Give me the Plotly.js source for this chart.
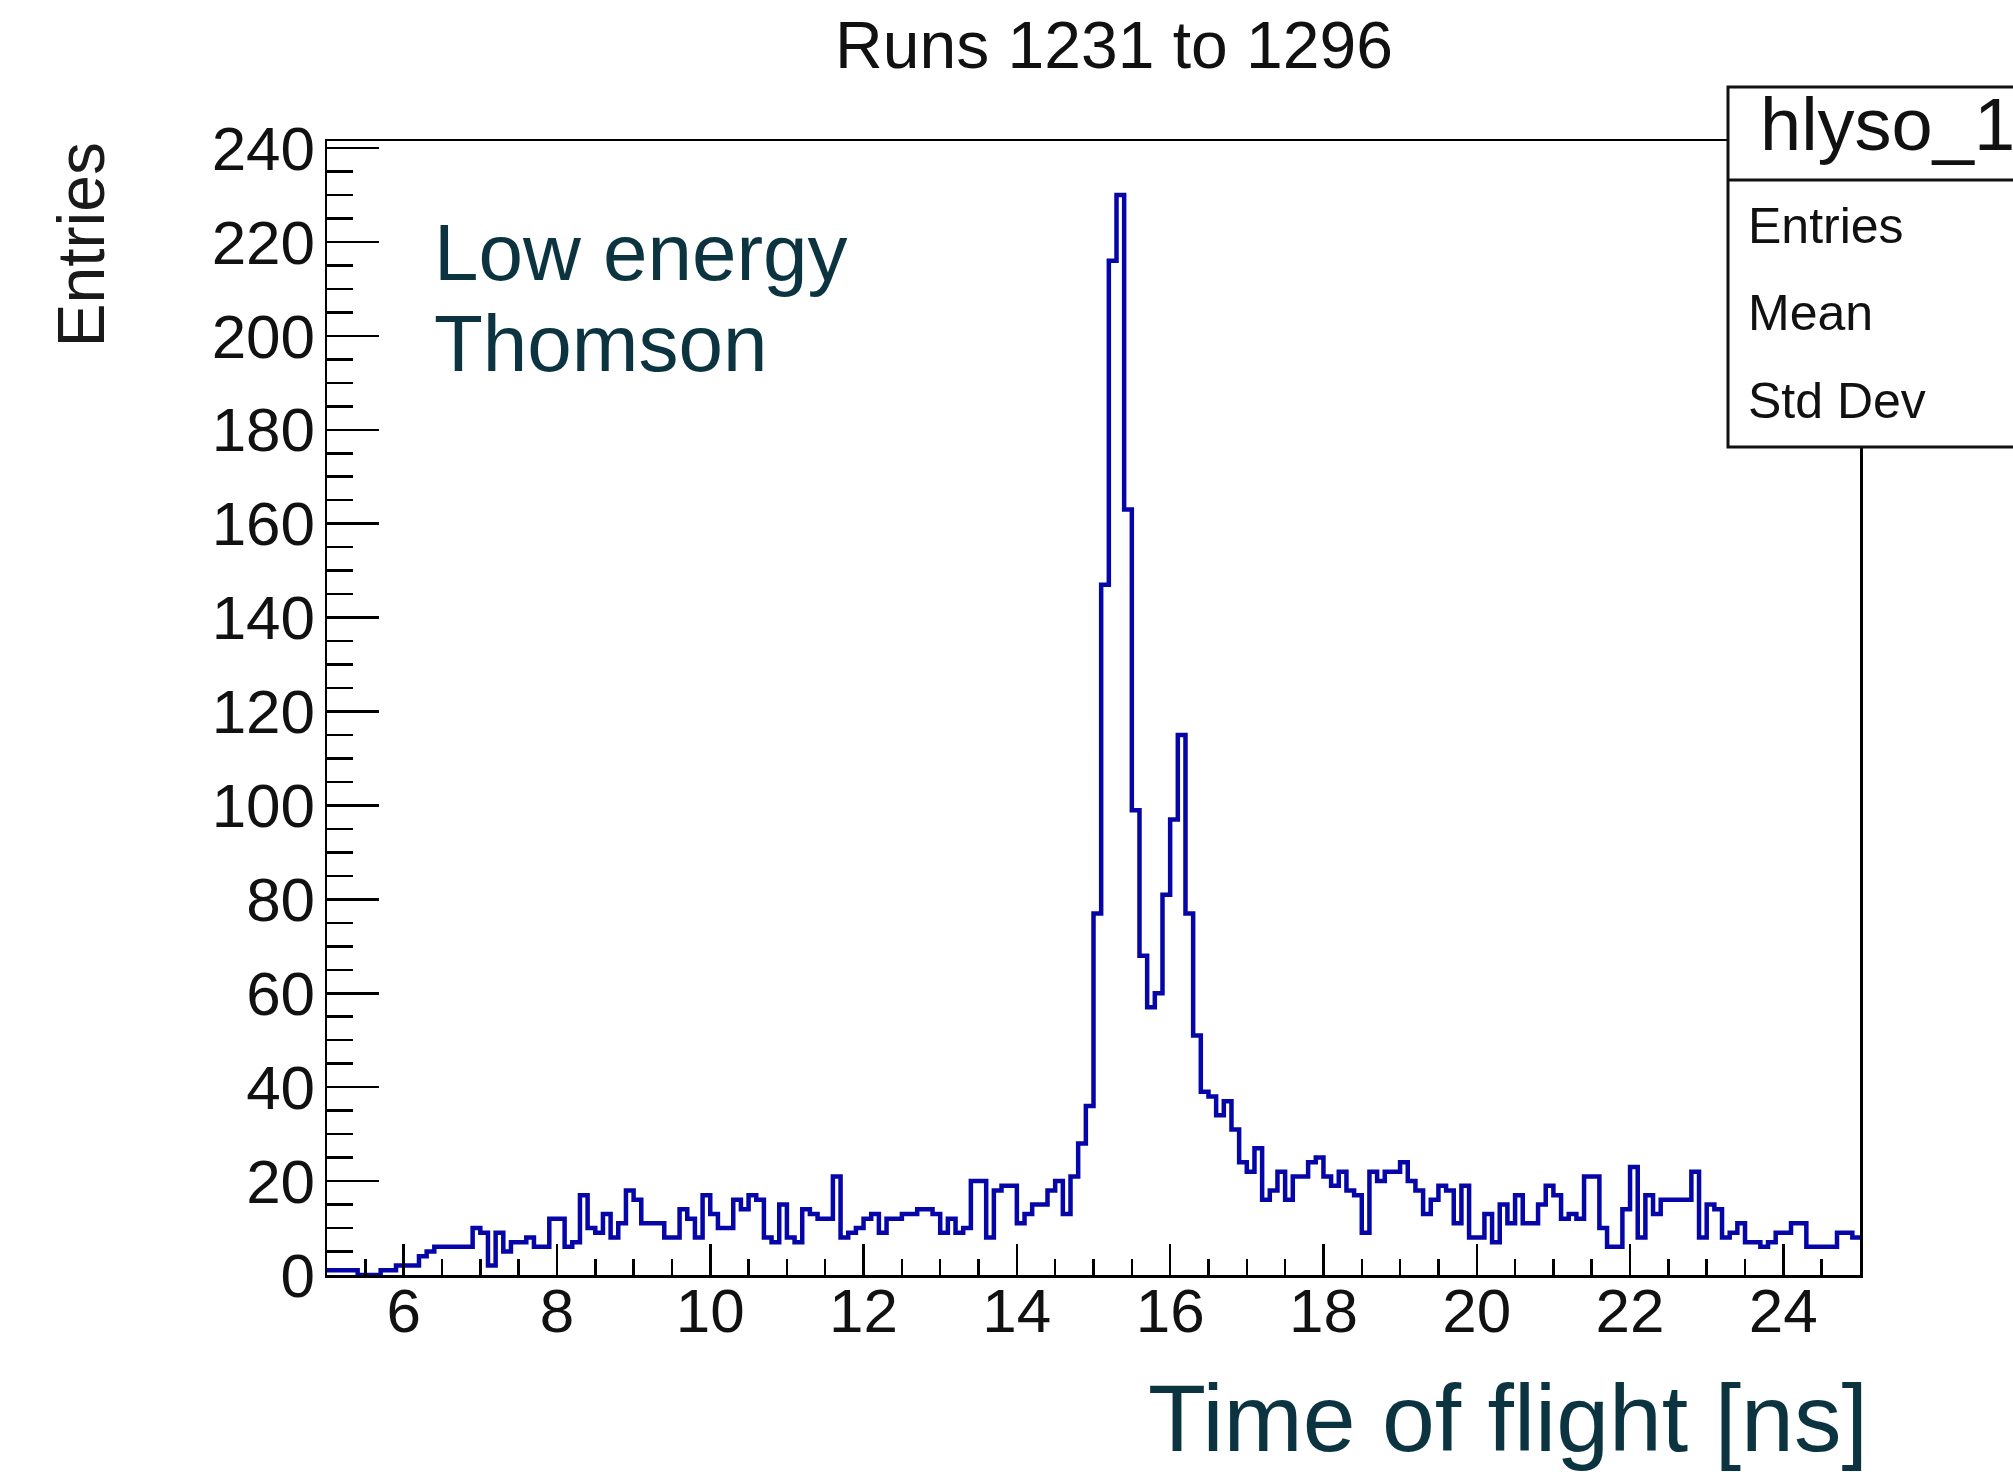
<!DOCTYPE html>
<html>
<head>
<meta charset="utf-8">
<script src="https://cdn.plot.ly/plotly-3.0.1.min.js"></script>
<style>
  html, body { margin: 0; padding: 0; background: #ffffff; }
  #chart { width: 2013px; height: 1472px; }
</style>
</head>
<body>
<div id="chart"></div>
<script>
// ---- data (0.1 ns bins from 5 to 25 ns) ----
const binLow = 5.0;
const binWidth = 0.1;
const counts = [
  1, 1, 1, 1, 0, 0, 0, 1, 1, 2,
  2, 2, 4, 5, 6, 6, 6, 6, 6, 10,
  9, 2, 9, 5, 7, 7, 8, 6, 6, 12,
  12, 6, 7, 17, 10, 9, 13, 8, 11, 18,
  16, 11, 11, 11, 8, 8, 14, 12, 8, 17,
  13, 10, 10, 16, 14, 17, 16, 8, 7, 15,
  8, 7, 14, 13, 12, 12, 21, 8, 9, 10,
  12, 13, 9, 12, 12, 13, 13, 14, 14, 13,
  9, 12, 9, 10, 20, 20, 8, 18, 19, 19,
  11, 13, 15, 15, 18, 20, 13, 21, 28, 36,
  77, 147, 216, 230, 163, 99, 68, 57, 60, 81,
  97, 115, 77, 51, 39, 38, 34, 37, 31, 24,
  22, 27, 16, 18, 22, 16, 21, 21, 24, 25,
  21, 19, 22, 18, 17, 9, 22, 20, 22, 22,
  24, 20, 18, 13, 16, 19, 18, 11, 19, 8,
  8, 13, 7, 15, 11, 17, 11, 11, 15, 19,
  17, 12, 13, 12, 21, 21, 10, 6, 6, 14,
  23, 8, 17, 13, 16, 16, 16, 16, 22, 8,
  15, 14, 8, 9, 11, 7, 7, 6, 7, 9,
  9, 11, 11, 6, 6, 6, 6, 9, 9, 8
];
const xTickVals = [6, 8, 10, 12, 14, 16, 18, 20, 22, 24];
const xTickText = ["6", "8", "10", "12", "14", "16", "18", "20", "22", "24"];
const yTickVals = [0, 20, 40, 60, 80, 100, 120, 140, 160, 180, 200, 220, 240];
const yTickText = ["0", "20", "40", "60", "80", "100", "120", "140", "160", "180", "200", "220", "240"];
const titleText = "Runs 1231 to 1296";
const xTitleText = "Time of flight [ns]";
const yTitleText = "Entries";
const noteLines = ["Low energy", "Thomson"];
const statsName = "hlyso_1";
const statsLabels = ["Entries", "Mean", "Std Dev"];

// ---- build step outline from bin edges ----
const edges = [];
const levels = [];
for (let i = 0; i < counts.length; i++) {
  edges.push(+(binLow + i * binWidth).toFixed(4));
  levels.push(counts[i]);
}
edges.push(+(binLow + counts.length * binWidth).toFixed(4));
levels.push(counts[counts.length - 1]);

const xMin = binLow;
const xMax = binLow + counts.length * binWidth;
const yMax = 1.05 * Math.max(...counts);

// ---- page geometry ----
const W = 2013, H = 1472;
const L = 327, R = 1860, T = 141, B = 1275;
const PW = R - L, PH = B - T;
const px = x => (x - L) / PW;
const py = y => (B - y) / PH;

const FONT = "Liberation Sans, Arial, Helvetica, sans-serif";
const TEAL = "#0b3440";

const trace = {
  type: "scatter",
  mode: "lines",
  x: edges,
  y: levels,
  line: { shape: "hv", color: "#0606a8", width: 4.5 },
  hoverinfo: "skip",
  cliponaxis: true
};

const annotations = [
  { text: yTitleText, xref: "paper", yref: "paper", x: px(80), y: py(141),
    xanchor: "center", yanchor: "top", textangle: -90, showarrow: false,
    font: { family: FONT, size: 66, color: "#1a1a1a" } },
  { text: xTitleText, xref: "paper", yref: "paper", x: px(1870), y: py(1418),
    xanchor: "right", yanchor: "middle", showarrow: false,
    font: { family: FONT, size: 95, color: TEAL } },
  { text: noteLines[0], xref: "paper", yref: "paper", x: px(432), y: py(252),
    xanchor: "left", yanchor: "middle", showarrow: false,
    font: { family: FONT, size: 80, color: TEAL } },
  { text: noteLines[1], xref: "paper", yref: "paper", x: px(432), y: py(343),
    xanchor: "left", yanchor: "middle", showarrow: false,
    font: { family: FONT, size: 80, color: TEAL } },
  { text: statsName, xref: "paper", yref: "paper", x: px(1758), y: py(124),
    xanchor: "left", yanchor: "middle", showarrow: false,
    font: { family: FONT, size: 74, color: "#111" } },
  { text: statsLabels[0], xref: "paper", yref: "paper", x: px(1746), y: py(226),
    xanchor: "left", yanchor: "middle", showarrow: false,
    font: { family: FONT, size: 50, color: "#111" } },
  { text: statsLabels[1], xref: "paper", yref: "paper", x: px(1746), y: py(313),
    xanchor: "left", yanchor: "middle", showarrow: false,
    font: { family: FONT, size: 50, color: "#111" } },
  { text: statsLabels[2], xref: "paper", yref: "paper", x: px(1746), y: py(401),
    xanchor: "left", yanchor: "middle", showarrow: false,
    font: { family: FONT, size: 50, color: "#111" } }
];

const shapes = [
  { type: "rect", xref: "paper", yref: "paper", layer: "above",
    x0: px(1728), x1: px(2040), y0: py(447), y1: py(87),
    line: { color: "#111", width: 3 }, fillcolor: "#ffffff" },
  { type: "line", xref: "paper", yref: "paper", layer: "above",
    x0: px(1728), x1: px(2040), y0: py(180), y1: py(180),
    line: { color: "#111", width: 3 } }
];

const layout = {
  width: W, height: H,
  margin: { l: L, r: W - R, t: T, b: H - B, pad: 0 },
  paper_bgcolor: "#ffffff",
  plot_bgcolor: "#ffffff",
  showlegend: false,
  title: { text: titleText, x: 1114 / W, xanchor: "center", y: 1 - 45 / H, yanchor: "middle",
           font: { family: FONT, size: 66, color: "#111" } },
  xaxis: {
    range: [xMin, xMax], autorange: false,
    showgrid: false, zeroline: false,
    showline: true, linecolor: "#000", linewidth: 2.5, mirror: true,
    ticks: "inside", ticklen: 31, tickwidth: 2.5, tickcolor: "#000",
    tickmode: "array", tickvals: xTickVals, ticktext: xTickText,
    tickfont: { family: FONT, size: 62, color: "#111" },
    ticklabelstandoff: -20,
    minor: { dtick: 0.5, tick0: 5, ticks: "inside", ticklen: 16, tickwidth: 2.5, tickcolor: "#000", showgrid: false }
  },
  yaxis: {
    range: [0, yMax], autorange: false,
    showgrid: false, zeroline: false,
    showline: true, linecolor: "#000", linewidth: 2.5, mirror: true,
    ticks: "inside", ticklen: 52, tickwidth: 2.5, tickcolor: "#000",
    tickmode: "array", tickvals: yTickVals, ticktext: yTickText,
    tickfont: { family: FONT, size: 62, color: "#111" },
    ticklabelstandoff: -3,
    minor: { dtick: 5, tick0: 0, ticks: "inside", ticklen: 26, tickwidth: 2.5, tickcolor: "#000", showgrid: false }
  },
  annotations: annotations,
  shapes: shapes
};

Plotly.newPlot("chart", [trace], layout, { staticPlot: true, displayModeBar: false });
</script>
</body>
</html>
